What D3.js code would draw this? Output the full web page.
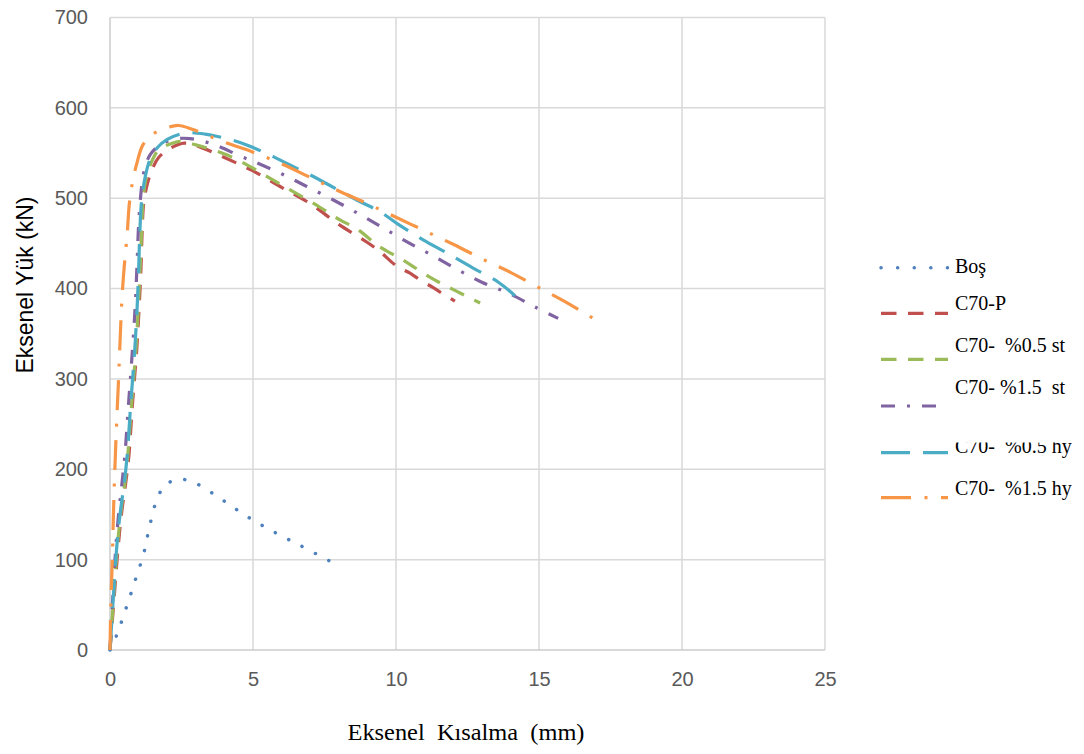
<!DOCTYPE html>
<html>
<head>
<meta charset="utf-8">
<script src="https://cdn.jsdelivr.net/npm/d3@7"></script>
<style>
  html, body { margin: 0; padding: 0; background: #ffffff; }
  svg { display: block; }
  text { white-space: pre; }
</style>
</head>
<body>
<svg id="chart" width="1084" height="754"></svg>
<script>
// Axial load (kN) versus axial shortening (mm) for each specimen: [shortening, load]
const bos = [[0,0],[0.24,17],[0.57,47],[0.89,78],[1.19,108],[1.4,139],[1.68,170],[1.96,183],[2.41,189],[2.96,185],[3.89,167],[4.78,148],[5.71,131],[6.69,115],[7.65,99]];
const c70P = [[0,0],[0.15,60],[0.28,112],[0.4,150],[0.55,185],[0.66,215],[0.78,270],[0.94,335],[1.02,380],[1.08,420],[1.12,460],[1.18,495],[1.3,515],[1.45,530],[1.7,545],[2.1,555],[2.6,561],[3.2,556],[4.0,545],[4.95,531],[6.0,512],[7.0,494],[8.0,471],[9.0,451],[9.44,441],[10.02,425],[10.49,417],[10.82,410],[11.3,401],[11.65,394],[12.06,386]];
const c70St05 = [[0,0],[0.13,60],[0.25,112],[0.37,150],[0.52,185],[0.62,215],[0.75,270],[0.91,335],[0.99,380],[1.05,420],[1.1,460],[1.15,495],[1.25,520],[1.45,540],[1.69,553],[2.1,560],[2.45,563],[3.0,559],[3.44,555],[4.08,548],[4.9,535],[5.71,520],[6.53,505],[7.34,490],[8.04,476],[8.63,466],[9.44,446],[10.0,436],[10.43,428],[11.21,412],[12.06,398],[12.94,384]];
const c70St15 = [[0,0],[0.1,60],[0.2,112],[0.3,150],[0.42,185],[0.52,215],[0.62,260],[0.78,330],[0.88,380],[0.95,430],[1.0,470],[1.08,505],[1.17,527],[1.4,548],[1.8,560],[2.4,566],[2.8,566],[3.15,564],[3.67,559],[4.6,546],[5.07,540],[6.0,527],[6.88,513],[7.81,498],[8.68,483],[9.5,468],[10.37,452],[11.25,437],[12.15,421],[13.0,407],[13.93,395],[14.84,380],[15.67,367]];
const c70Hy05 = [[0,0],[0.12,60],[0.23,112],[0.35,150],[0.5,185],[0.6,215],[0.72,270],[0.87,335],[0.95,380],[1.0,420],[1.04,460],[1.1,495],[1.22,522],[1.4,543],[1.63,555],[2.0,565],[2.6,572],[3.32,571],[4.31,564],[4.78,559],[5.71,546],[6.15,539],[7.11,524],[7.58,516],[8.63,498],[9.44,485],[10.08,471],[10.95,454],[11.8,439],[12.68,423],[13.58,407],[14.16,392]];
const c70Hy15 = [[0,0],[0.03,50],[0.08,100],[0.12,150],[0.17,200],[0.23,250],[0.3,300],[0.35,340],[0.42,390],[0.5,425],[0.6,460],[0.68,495],[0.8,520],[0.95,540],[1.15,559],[1.5,571],[2.0,578],[2.4,580.5],[2.9,576],[4.0,562],[5.0,551],[6.0,538],[7.0,523],[8.0,508],[9.0,494],[10.0,479],[11.0,464],[12.0,449],[13.0,433],[14.0,418],[15.0,401],[16.0,384],[17.0,365]];

const seriesNames = ["Boş", "C70-P", "C70-  %0.5 st", "C70- %1.5  st", "C70-  %0.5 hy", "C70-  %1.5 hy"];
const seriesData = [bos, c70P, c70St05, c70St15, c70Hy05, c70Hy15];
const seriesColors = ["#4F81BD", "#C0504D", "#9BBB59", "#8064A2", "#4BACC6", "#F79646"];
const seriesDash = ["0.1 15", "15.5 11.5", "15.5 11.5", "14 12 3 12", "29 13", "30 13.5 3 13.5"];
const seriesCap = ["round", "butt", "butt", "butt", "butt", "butt"];

const xTicks = [0, 5, 10, 15, 20, 25];
const yTicks = [0, 100, 200, 300, 400, 500, 600, 700];
const xTitle = "Eksenel  Kısalma  (mm)";
const yTitle = "Eksenel Yük (kN)";

const svg = d3.select("#chart");
const x = d3.scaleLinear().domain([0, 25]).range([110, 825]);
const y = d3.scaleLinear().domain([0, 700]).range([650, 17.5]);

// gridlines
const grid = svg.append("g");
grid.selectAll("line.h").data(yTicks.slice(1)).join("line")
  .attr("x1", x(0)).attr("x2", x(25))
  .attr("y1", d => y(d)).attr("y2", d => y(d))
  .attr("stroke", "#d9d9d9").attr("stroke-width", 1.5);
grid.selectAll("line.v").data(xTicks.slice(1)).join("line")
  .attr("x1", d => x(d)).attr("x2", d => x(d))
  .attr("y1", y(0)).attr("y2", y(700))
  .attr("stroke", "#d9d9d9").attr("stroke-width", 1.5);

// axis lines
svg.append("line").attr("x1", x(0)).attr("x2", x(0)).attr("y1", y(0)).attr("y2", y(700))
  .attr("stroke", "#cccccc").attr("stroke-width", 1.5);
svg.append("line").attr("x1", x(0)).attr("x2", x(25)).attr("y1", y(0)).attr("y2", y(0))
  .attr("stroke", "#cccccc").attr("stroke-width", 1.5);

// tick labels via d3 axes
const xAxis = svg.append("g").attr("transform", `translate(0,${y(0)})`)
  .call(d3.axisBottom(x).tickValues(xTicks).tickSize(0).tickPadding(22));
const yAxis = svg.append("g").attr("transform", `translate(${x(0)},0)`)
  .call(d3.axisLeft(y).tickValues(yTicks).tickSize(0).tickPadding(22));
[xAxis, yAxis].forEach(a => {
  a.select(".domain").remove();
  a.selectAll("text").attr("fill", "#595959")
    .style("font-family", "'Liberation Sans', Arial, sans-serif").style("font-size", "20px");
});

// series
const line = d3.line().x(d => x(d[0])).y(d => y(d[1])).curve(d3.curveCatmullRom.alpha(0.5));
seriesData.forEach((data, i) => {
  const p = svg.append("path").datum(data)
    .attr("d", line)
    .attr("fill", "none")
    .attr("stroke", seriesColors[i])
    .attr("stroke-width", i === 0 ? 3.5 : 3.2)
    .attr("stroke-dasharray", seriesDash[i])
    .attr("stroke-linecap", seriesCap[i]);
  if (i === 0) {
    // space the dots evenly so one falls on each end of the curve
    const len = p.node().getTotalLength();
    const n = Math.max(1, Math.round(len / 15.1));
    const period = (len - 0.3) / n;
    p.attr("stroke-dasharray", `0.1 ${period - 0.1}`);
  }
});

// axis titles
svg.append("text").text(xTitle)
  .attr("x", 466).attr("y", 740).attr("text-anchor", "middle")
  .attr("fill", "#000").style("font-family", "'Liberation Serif', 'Times New Roman', serif")
  .style("font-size", "24px")
  .attr("textLength", 237).attr("lengthAdjust", "spacingAndGlyphs");
svg.append("text").text(yTitle)
  .attr("transform", "translate(33,285) rotate(-90)").attr("text-anchor", "middle")
  .attr("fill", "#000").style("font-family", "'Liberation Sans', Arial, sans-serif")
  .style("font-size", "24px")
  .attr("textLength", 177).attr("lengthAdjust", "spacingAndGlyphs");

// legend
const legendLineY = [267.7, 313.3, 359.3, 406, 452.7, 497.7];
const legendTextY = [273.3, 310, 351.7, 394, 453.3, 495];
const defs = svg.append("defs");
defs.append("clipPath").attr("id", "legendClip4")
  .append("rect").attr("x", 940).attr("y", 442.5).attr("width", 144).attr("height", 30);
const legend = svg.append("g");
seriesNames.forEach((name, i) => {
  legend.append("line")
    .attr("x1", 881).attr("x2", 948)
    .attr("y1", legendLineY[i]).attr("y2", legendLineY[i])
    .attr("stroke", seriesColors[i])
    .attr("stroke-width", i === 0 ? 3.5 : 3.2)
    .attr("stroke-dasharray", i === 0 ? "0.1 16.5" : seriesDash[i])
    .attr("stroke-linecap", seriesCap[i]);
  const t = legend.append("text").text(name)
    .attr("x", 955).attr("y", legendTextY[i])
    .attr("fill", "#000")
    .style("font-family", "'Liberation Serif', 'Times New Roman', serif")
    .style("font-size", "20px");
  if (i === 4) t.attr("clip-path", "url(#legendClip4)");
});
</script>
</body>
</html>
